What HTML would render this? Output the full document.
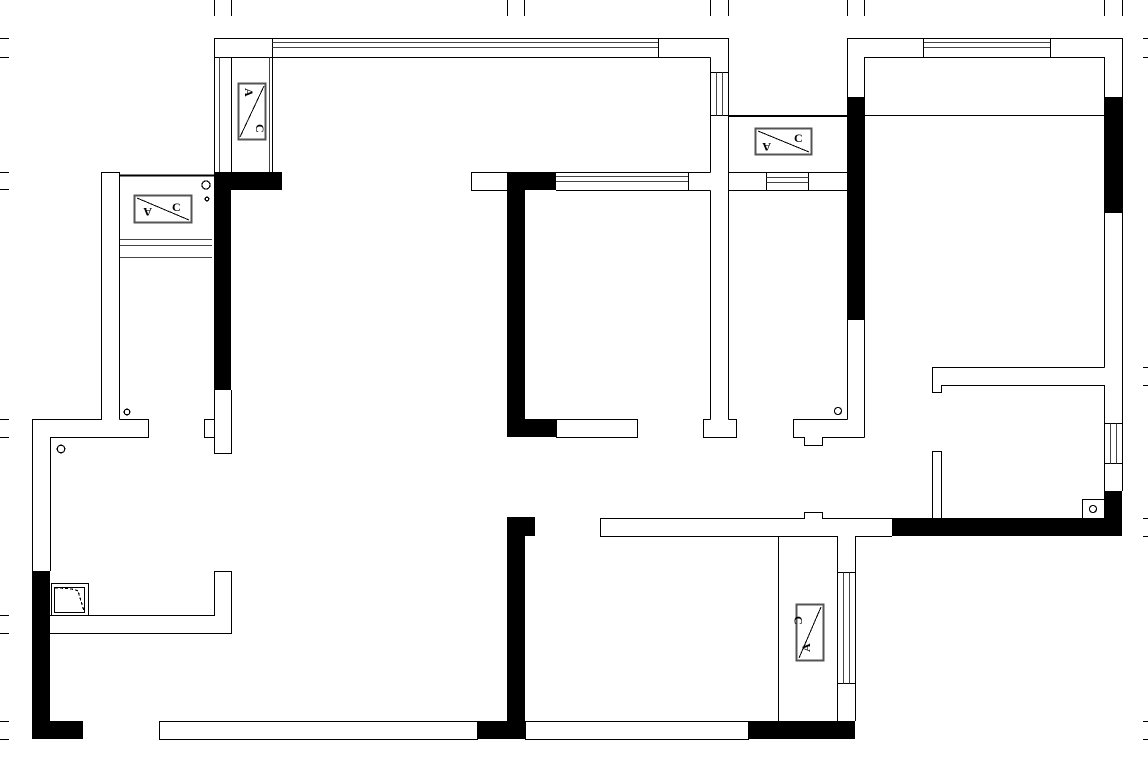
<!DOCTYPE html>
<html><head><meta charset="utf-8"><style>
html,body{margin:0;padding:0;background:#fff;}
svg{display:block;}
text{font-family:"Liberation Serif",serif;font-weight:bold;font-size:12px;}
</style></head><body>
<svg width="1148" height="758" viewBox="0 0 1148 758" xmlns="http://www.w3.org/2000/svg" fill="none" stroke="#000" stroke-width="1.2" shape-rendering="crispEdges">
<!-- ticks top -->
<g stroke="#000">
<line x1="214.5" y1="0" x2="214.5" y2="16"/><line x1="231.5" y1="0" x2="231.5" y2="16"/>
<line x1="507.5" y1="0" x2="507.5" y2="16"/><line x1="524.5" y1="0" x2="524.5" y2="16"/>
<line x1="710.5" y1="0" x2="710.5" y2="16"/><line x1="728.5" y1="0" x2="728.5" y2="16"/>
<line x1="847.5" y1="0" x2="847.5" y2="16"/><line x1="864.5" y1="0" x2="864.5" y2="16"/>
<line x1="1104.5" y1="0" x2="1104.5" y2="16"/><line x1="1122.5" y1="0" x2="1122.5" y2="16"/>
<!-- left ticks -->
<line x1="0" y1="38.5" x2="9" y2="38.5"/><line x1="0" y1="57.5" x2="9" y2="57.5"/>
<line x1="0" y1="172.5" x2="9" y2="172.5"/><line x1="0" y1="189.5" x2="9" y2="189.5"/>
<line x1="0" y1="419.5" x2="9" y2="419.5"/><line x1="0" y1="437.5" x2="9" y2="437.5"/>
<line x1="0" y1="615.5" x2="9" y2="615.5"/><line x1="0" y1="633.5" x2="9" y2="633.5"/>
<line x1="0" y1="721.5" x2="9" y2="721.5"/><line x1="0" y1="739.5" x2="9" y2="739.5"/>
<!-- right ticks -->
<line x1="1143" y1="38.5" x2="1148" y2="38.5"/><line x1="1143" y1="57.5" x2="1148" y2="57.5"/>
<line x1="1143" y1="367.5" x2="1148" y2="367.5"/><line x1="1143" y1="385.5" x2="1148" y2="385.5"/>
<line x1="1143" y1="518.5" x2="1148" y2="518.5"/><line x1="1143" y1="536.5" x2="1148" y2="536.5"/>
<line x1="1143" y1="721.5" x2="1148" y2="721.5"/><line x1="1143" y1="739.5" x2="1148" y2="739.5"/>
</g>

<!-- TOP LEFT ROOM -->
<rect x="214.5" y="38.5" width="58" height="19"/>
<line x1="272.5" y1="38.5" x2="658.5" y2="38.5"/>
<line x1="272.5" y1="42.5" x2="658.5" y2="42.5" stroke="#444"/>
<line x1="272.5" y1="47.5" x2="658.5" y2="47.5" stroke="#444"/>
<line x1="272.5" y1="57.5" x2="710.5" y2="57.5"/>
<polyline points="658.5,57.5 658.5,38.5 728.5,38.5 728.5,419.5"/>
<line x1="214.5" y1="38.5" x2="214.5" y2="172"/>
<line x1="231.5" y1="57.5" x2="231.5" y2="172"/>
<line x1="219.5" y1="57.5" x2="219.5" y2="172" stroke="#444"/>
<line x1="269.5" y1="57.5" x2="269.5" y2="172" stroke="#444"/>
<line x1="272.5" y1="57.5" x2="272.5" y2="172"/>
<!-- AC vertical top-left -->
<rect x="238.5" y="83.5" width="27" height="56" stroke="#555" stroke-width="2"/>
<line x1="264" y1="86" x2="240" y2="137" stroke-width="1"/>
<text x="0" y="0" fill="#000" stroke="none" transform="translate(245,88) rotate(90)">A</text>
<text x="0" y="0" fill="#000" stroke="none" transform="translate(256,124) rotate(90)">C</text>

<!-- wall x710-728 -->
<line x1="710.5" y1="57.5" x2="710.5" y2="172.5"/>
<line x1="710.5" y1="190.5" x2="710.5" y2="419.5"/>
<line x1="710.5" y1="72.5" x2="728.5" y2="72.5"/>
<line x1="710.5" y1="115.5" x2="728.5" y2="115.5"/>
<line x1="716.5" y1="72.5" x2="716.5" y2="115.5" stroke="#444"/>
<line x1="722.5" y1="72.5" x2="722.5" y2="115.5" stroke="#444"/>
<polyline points="710.5,419.5 703.5,419.5 703.5,437.5 736.5,437.5 736.5,419.5 728.5,419.5"/>

<!-- black left L -->
<rect x="214" y="172" width="68" height="18" fill="#000" stroke="none"/>
<rect x="214" y="172" width="17" height="218" fill="#000" stroke="none"/>
<polyline points="214.5,390 214.5,453.5 231.5,453.5 231.5,390"/>
<rect x="204.5" y="419.5" width="10" height="18"/>

<!-- left balcony -->
<line x1="119.5" y1="175.5" x2="214" y2="175.5" stroke-width="2.2"/>
<line x1="119.5" y1="239.5" x2="212" y2="239.5" stroke="#444"/>
<line x1="119.5" y1="245.5" x2="212" y2="245.5" stroke="#444"/>
<line x1="119.5" y1="257.5" x2="212" y2="257.5" stroke="#444"/>
<rect x="134.5" y="195.5" width="57" height="27" stroke="#555" stroke-width="2"/>
<line x1="137" y1="198" x2="189" y2="220" stroke-width="1"/>
<text x="0" y="0" fill="#000" stroke="none" transform="translate(152,208) rotate(180)">A</text>
<text x="172" y="211" fill="#000" stroke="none">C</text>
<polyline points="119.5,419.5 119.5,172.5 101.5,172.5 101.5,419.5 32.5,419.5 32.5,571"/>
<polyline points="119.5,419.5 148.5,419.5 148.5,437.5 50.5,437.5 50.5,571"/>
<circle cx="206" cy="185" r="4"/>
<circle cx="207" cy="199" r="1.8"/>
<circle cx="127" cy="412" r="2.8"/>
<circle cx="61" cy="449" r="3.8"/>

<!-- left lower -->
<rect x="32" y="571" width="18" height="168" fill="#000" stroke="none"/>
<rect x="32" y="721" width="51" height="18" fill="#000" stroke="none"/>
<polyline points="50,615.5 214.5,615.5 214.5,571.5 231.5,571.5 231.5,633.5 50,633.5"/>
<rect x="51.5" y="583.5" width="37" height="32"/>
<rect x="54.5" y="587.5" width="30" height="25"/>
<path d="M55,588 Q72,588 78,591 L84,611" stroke-dasharray="3,2"/>

<!-- bottom wall -->
<rect x="159.5" y="721.5" width="318" height="18"/>
<rect x="477" y="721" width="48" height="18" fill="#000" stroke="none"/>
<rect x="525.5" y="721.5" width="223" height="18"/>
<rect x="748" y="721" width="107" height="18" fill="#000" stroke="none"/>

<!-- center black -->
<rect x="507" y="517" width="18" height="205" fill="#000" stroke="none"/>
<rect x="507" y="517" width="28" height="19" fill="#000" stroke="none"/>
<rect x="507" y="172" width="18" height="265" fill="#000" stroke="none"/>
<rect x="507" y="172" width="49" height="18" fill="#000" stroke="none"/>
<rect x="507" y="419" width="49" height="18" fill="#000" stroke="none"/>
<rect x="471.5" y="172.5" width="36" height="18"/>
<rect x="556.5" y="419.5" width="81" height="18"/>

<!-- horizontal wall y172-190 -->
<line x1="556" y1="172.5" x2="710.5" y2="172.5"/>
<line x1="556" y1="190.5" x2="710.5" y2="190.5"/>
<line x1="556" y1="176.5" x2="688.5" y2="176.5" stroke="#444"/>
<line x1="556" y1="181.5" x2="688.5" y2="181.5" stroke="#444"/>
<line x1="688.5" y1="172.5" x2="688.5" y2="190.5"/>
<line x1="728.5" y1="172.5" x2="847.5" y2="172.5"/>
<line x1="728.5" y1="190.5" x2="847.5" y2="190.5"/>
<line x1="766.5" y1="172.5" x2="766.5" y2="190.5"/>
<line x1="808.5" y1="172.5" x2="808.5" y2="190.5"/>
<line x1="766.5" y1="177.5" x2="808.5" y2="177.5" stroke="#444"/>
<line x1="766.5" y1="182.5" x2="808.5" y2="182.5" stroke="#444"/>
<!-- corridor -->
<line x1="728.5" y1="116" x2="847" y2="116" stroke-width="2.2"/>
<rect x="755.5" y="128.5" width="56" height="26" stroke="#555" stroke-width="2"/>
<line x1="758" y1="131" x2="809" y2="152" stroke-width="1"/>
<text x="0" y="0" fill="#000" stroke="none" transform="translate(771,143) rotate(180)">A</text>
<text x="794" y="142" fill="#000" stroke="none">C</text>

<!-- right building -->
<polyline points="847.5,419.5 847.5,38.5 1122.5,38.5 1122.5,491"/>
<polyline points="864.5,437.5 864.5,57.5 1104.5,57.5 1104.5,367.5"/>
<line x1="923.5" y1="42.5" x2="1050.5" y2="42.5" stroke="#444"/>
<line x1="923.5" y1="47.5" x2="1050.5" y2="47.5" stroke="#444"/>
<line x1="923.5" y1="38.5" x2="923.5" y2="57.5"/>
<line x1="1050.5" y1="38.5" x2="1050.5" y2="57.5"/>
<line x1="864" y1="115.5" x2="1104" y2="115.5"/>
<rect x="847" y="97" width="17" height="223" fill="#000" stroke="none"/>
<rect x="1104" y="97" width="18" height="116" fill="#000" stroke="none"/>
<polyline points="847.5,419.5 829.5,419.5"/>
<polyline points="829.5,419.5 793.5,419.5 793.5,437.5 804.5,437.5 804.5,445.5 822.5,445.5 822.5,437.5 864.5,437.5"/>
<circle cx="838" cy="411" r="3.5"/>
<polyline points="1104.5,367.5 932.5,367.5 932.5,392.5 941.5,392.5 941.5,385.5 1104.5,385.5 1104.5,518"/>
<line x1="1104.5" y1="423.5" x2="1122.5" y2="423.5"/>
<line x1="1104.5" y1="463.5" x2="1122.5" y2="463.5"/>
<line x1="1110.5" y1="423.5" x2="1110.5" y2="463.5" stroke="#444"/>
<line x1="1116.5" y1="423.5" x2="1116.5" y2="463.5" stroke="#444"/>
<rect x="1104" y="491" width="18" height="45" fill="#000" stroke="none"/>
<rect x="892" y="518" width="230" height="18" fill="#000" stroke="none"/>
<rect x="1082.5" y="499.5" width="22" height="19"/>
<circle cx="1093" cy="509" r="3.5"/>
<polyline points="932.5,518 932.5,451.5 941.5,451.5 941.5,518"/>

<!-- lower middle -->
<polyline points="892,518.5 855.5,518.5"/>
<polyline points="837.5,518.5 822.5,518.5 822.5,512.5 804.5,512.5 804.5,518.5 600.5,518.5 600.5,536.5 837.5,536.5 837.5,721"/>
<polyline points="892,536.5 855.5,536.5 855.5,721"/>
<line x1="837.5" y1="518.5" x2="855.5" y2="518.5"/>
<line x1="778.5" y1="536.5" x2="778.5" y2="721"/>
<line x1="837.5" y1="572.5" x2="855.5" y2="572.5"/>
<line x1="837.5" y1="683.5" x2="855.5" y2="683.5"/>
<line x1="843.5" y1="572.5" x2="843.5" y2="683.5" stroke="#444"/>
<line x1="849.5" y1="572.5" x2="849.5" y2="683.5" stroke="#444"/>
<rect x="796.5" y="604.5" width="27" height="56" stroke="#555" stroke-width="2"/>
<line x1="821" y1="607" x2="799" y2="658" stroke-width="1"/>
<text x="0" y="0" fill="#000" stroke="none" transform="translate(802,612) rotate(-90) translate(-12,0) scale(-1,1) translate(-8,0)">C</text>
<text x="0" y="0" fill="#000" stroke="none" transform="translate(810,652) rotate(-90)">A</text>
</svg>
</body></html>
